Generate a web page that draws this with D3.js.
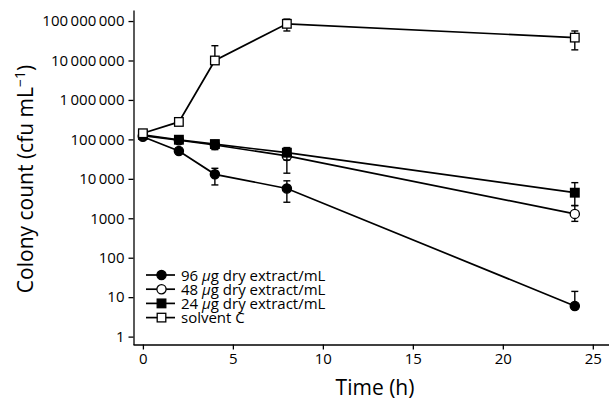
<!DOCTYPE html>
<html>
<head>
<meta charset="utf-8">
<script src="https://cdn.jsdelivr.net/npm/d3@7"></script>
<style>
  body { margin: 0; background: #fff; }
  svg { display: block; font-family: "Open Sans", sans-serif; }
</style>
</head>
<body>
<svg id="chart" width="609" height="400"></svg>
<script>
// time points (h)
const times = [0, 2, 4, 8, 24];

// colony counts, cfu/mL
const c96 = [117000, 51000, 13000, 5700, 6];
const c96Up = [125000, 56000, 18500, 8900, 14];
const c96Lo = [110000, 46000, 7000, 2550, 5];

const c48 = [125000, 95000, 72000, 38000, 1290];
const c48Up = [130000, 100000, 90000, 55000, 2100];
const c48Lo = [120000, 90000, 55000, 13900, 835];

const c24 = [130000, 98000, 76000, 46000, 4450];
const c24Up = [135000, 105000, 93000, 62000, 8000];
const c24Lo = [125000, 90000, 58000, 30000, 2100];

const solvent = [143000, 277000, 10000000, 85000000, 38000000];
const solventUp = [150000, 290000, 23700000, 112000000, 56000000];
const solventLo = [136000, 265000, 8200000, 56000000, 18600000];

const yTicks = [1, 10, 100, 1000, 1e4, 1e5, 1e6, 1e7, 1e8];
const yTickLabels = ["1", "10", "100", "1000", "10\u2009000", "100\u2009000",
  "1\u2009000\u2009000", "10\u2009000\u2009000", "100\u2009000\u2009000"];
const xTicks = [0, 5, 10, 15, 20, 25];

const series = [
  { name: "96", label: "dry extract/mL", vals: c96, up: c96Up, lo: c96Lo, shape: "circle", fill: "#000" },
  { name: "48", label: "dry extract/mL", vals: c48, up: c48Up, lo: c48Lo, shape: "circle", fill: "#fff" },
  { name: "24", label: "dry extract/mL", vals: c24, up: c24Up, lo: c24Lo, shape: "square", fill: "#000" },
  { name: "solvent C", label: null, vals: solvent, up: solventUp, lo: solventLo, shape: "square", fill: "#fff" }
];

const svg = d3.select("#chart");

const x = d3.scaleLinear().domain([-0.55, 25.9]).range([133, 609]);
const y = d3.scaleLog().domain([Math.pow(10, -0.2), Math.pow(10, 8.28)]).range([344.5, 10]);

// axes
const xAxis = svg.append("g")
  .attr("transform", "translate(0," + 344.5 + ")")
  .call(d3.axisBottom(x).tickValues(xTicks).tickSize(5).tickSizeOuter(0).tickPadding(4));
const yAxis = svg.append("g")
  .attr("transform", "translate(" + 133.5 + ",0)")
  .call(d3.axisLeft(y).tickValues(yTicks).tickSize(5).tickSizeOuter(0).tickPadding(4)
    .tickFormat((d, i) => yTickLabels[i]));

[xAxis, yAxis].forEach(g => {
  g.selectAll("path, line").attr("stroke", "#000").attr("stroke-width", 1.3);
  g.selectAll("text").attr("fill", "#000").style("font-size", "15px").style("font-family", "'Open Sans', sans-serif");
});

// axis titles
svg.append("text")
  .attr("x", 375).attr("y", 395)
  .attr("text-anchor", "middle")
  .style("font-size", "21px")
  .text("Time (h)");

const yt = svg.append("text")
  .attr("transform", "translate(33,179) rotate(-90)")
  .attr("text-anchor", "middle")
  .style("font-size", "21px");
yt.append("tspan").text("Colony count (cfu mL");
yt.append("tspan").attr("dy", -8).style("font-size", "14px").text("\u22121");
yt.append("tspan").attr("dy", 8).text(")");

const line = d3.line()
  .x((d, i) => x(times[i]))
  .y(d => y(d));

function drawMarker(g, shape, fill, cx, cy) {
  if (shape === "circle") {
    g.append("circle").attr("cx", cx).attr("cy", cy).attr("r", 4.6)
      .attr("fill", fill).attr("stroke", "#000").attr("stroke-width", 1.3);
  } else {
    g.append("rect").attr("x", cx - 4.3).attr("y", cy - 4.3)
      .attr("width", 8.6).attr("height", 8.6)
      .attr("fill", fill).attr("stroke", "#000").attr("stroke-width", 1.3);
  }
}

series.forEach(s => {
  const g = svg.append("g");
  // error bars
  s.vals.forEach((v, i) => {
    const cx = x(times[i]);
    g.append("line").attr("x1", cx).attr("x2", cx)
      .attr("y1", y(s.up[i])).attr("y2", y(s.lo[i]))
      .attr("stroke", "#000").attr("stroke-width", 1.4);
    [s.up[i], s.lo[i]].forEach(e => {
      g.append("line").attr("x1", cx - 3.5).attr("x2", cx + 3.5)
        .attr("y1", y(e)).attr("y2", y(e))
        .attr("stroke", "#000").attr("stroke-width", 1.4);
    });
  });
  g.append("path").datum(s.vals)
    .attr("d", line)
    .attr("fill", "none").attr("stroke", "#000").attr("stroke-width", 1.7);
  s.vals.forEach((v, i) => drawMarker(g, s.shape, s.fill, x(times[i]), y(v)));
});

// legend
const legend = svg.append("g").attr("transform", "translate(146,275)");
series.forEach((s, i) => {
  const row = legend.append("g").attr("transform", "translate(0," + (i * 14.2) + ")");
  row.append("line").attr("x1", 0).attr("x2", 29).attr("y1", 0).attr("y2", 0)
    .attr("stroke", "#000").attr("stroke-width", 1.7);
  drawMarker(row, s.shape, s.fill, 15.5, 0);
  const t = row.append("text").attr("x", 35).attr("y", 5.5).style("font-size", "15px");
  if (s.label) {
    t.append("tspan").text(s.name + " ");
    t.append("tspan").style("font-style", "italic").text("\u03bc");
    t.append("tspan").text("g " + s.label);
  } else {
    t.text(s.name);
  }
});
</script>
</body>
</html>
